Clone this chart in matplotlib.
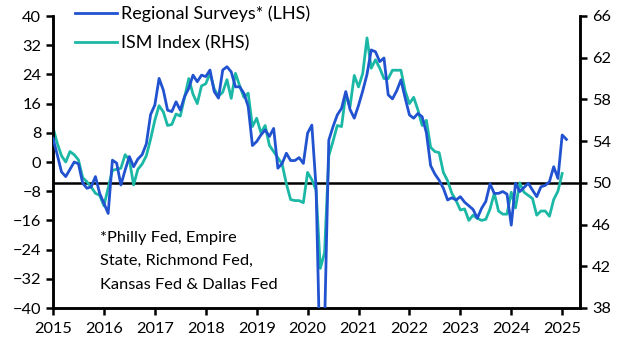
import matplotlib
matplotlib.use("Agg")
import matplotlib.pyplot as plt
import numpy as np

# ---- data (monthly) ----
regional_start = 2015.0
regional = [
    # 2015
    6.5, 2.0, -2.7, -4.0, -2.0, 0.0, -0.5, -5.8, -7.2, -6.8, -4.0, -8.6,
    # 2016
    -11.3, -14.1, 0.5, -0.3, -6.3, -2.2, 1.5, -1.3, 0.8, 2.0, 5.0, 13.0,
    # 2017
    15.6, 22.9, 19.7, 14.2, 13.8, 16.5, 14.2, 17.9, 20.2, 23.8, 22.0, 23.8,
    # 2018
    23.4, 25.2, 19.3, 17.5, 25.2, 26.1, 24.7, 20.6, 20.6, 18.8, 15.2, 4.5,
    # 2019
    5.6, 7.4, 8.8, 7.0, 9.2, -1.7, -0.4, 2.4, 0.4, 0.4, 1.2, -0.4,
    # 2020
    7.9, 10.1, -7.0, -58.0, -45.0, 6.0, 9.7, 12.9, 14.7, 19.3, 14.4, 12.0,
    # 2021
    15.5, 19.5, 24.0, 30.7, 30.2, 27.5, 28.5, 18.4, 17.3, 19.5, 22.5, 17.5,
    # 2022
    12.9, 12.0, 13.3, 12.4, 8.0, -1.0, -3.3, -5.0, -7.2, -10.4, -9.8, -10.4,
    # 2023
    -9.5, -11.0, -12.0, -13.0, -15.4, -12.7, -10.8, -6.0, -8.6, -8.6, -8.1, -8.8,
    # 2024
    -17.3, -5.8, -8.1, -7.0, -5.8, -7.7, -9.5, -6.8, -6.4, -5.4, -1.3, -4.5,
    # 2025
    7.4, 6.2,
]

ism_start = 2015.0
ism = [
    # 2015
    55.3, 53.8, 52.6, 52.0, 53.0, 52.7, 52.2, 50.5, 50.1, 49.6, 49.0, 48.8,
    # 2016
    47.8, 49.5, 51.2, 51.3, 51.4, 52.7, 52.2, 49.8, 51.3, 51.8, 52.6, 54.2,
    # 2017
    56.0, 57.4, 56.8, 55.5, 55.6, 56.6, 56.4, 58.2, 60.0, 58.5, 57.6, 59.3,
    # 2018
    59.5, 60.5, 59.0, 58.3, 58.7, 59.9, 58.1, 60.5, 59.3, 58.2, 58.6, 55.4,
    # 2019
    56.2, 54.8, 55.5, 53.6, 53.0, 52.4, 51.8, 49.9, 48.4, 48.3, 48.3, 48.1,
    # 2020
    51.0, 50.3, 49.3, 41.8, 43.3, 52.6, 54.0, 55.5, 55.4, 58.5, 57.3, 60.3,
    # 2021
    59.2, 60.5, 63.9, 61.0, 61.8, 61.0, 60.0, 60.0, 60.8, 60.8, 60.8, 58.8,
    # 2022
    57.6, 58.2, 57.0, 55.5, 56.0, 53.4, 53.0, 52.9, 51.0, 50.2, 49.0, 48.3,
    # 2023
    47.4, 47.5, 46.4, 46.9, 46.6, 46.4, 46.5, 47.5, 49.0, 47.3, 47.0, 47.0,
    # 2024
    49.1, 47.6, 50.0, 49.1, 48.8, 48.5, 46.9, 47.3, 47.3, 46.8, 48.4, 49.2,
    # 2025
    50.9,
]

year_ticks = list(range(2015, 2026))
left_ticks = list(range(-40, 41, 8))
right_ticks = list(range(38, 67, 4))
ism_threshold = 50

BLUE = "#2152d0"
TEAL = "#1cb8a6"

plt.rcParams["font.family"] = ["Lato", "DejaVu Sans"]

x_reg = regional_start + np.arange(len(regional)) / 12.0
x_ism = ism_start + np.arange(len(ism)) / 12.0

fig = plt.figure(figsize=(6.32, 3.57), dpi=100)
ax = fig.add_axes([53 / 632, 1 - 308 / 357, (580 - 53) / 632, (308 - 16) / 357])
ax2 = ax.twinx()

l1, = ax.plot(x_reg, regional, color=BLUE, lw=2.0, label="Regional Surveys* (LHS)", zorder=3)
l2, = ax2.plot(x_ism, ism, color=TEAL, lw=2.0, label="ISM Index (RHS)", zorder=2)
ax2.axhline(ism_threshold, color="black", lw=1.8, zorder=1)

ax.set_xlim(2015.0, 2025.35)
ax.set_ylim(-40, 40)
ax2.set_ylim(38, 66)

ax.set_xticks(year_ticks)
ax.set_xticklabels([str(y) for y in year_ticks])
ax.set_yticks(left_ticks)
ax2.set_yticks(right_ticks)

for a in (ax, ax2):
    a.spines["top"].set_visible(False)
    for s in ("left", "right", "bottom"):
        a.spines[s].set_linewidth(1.8)
        a.spines[s].set_color("black")
    a.tick_params(axis="both", direction="out", length=5, width=1.8, labelsize=11.8, colors="black")

ax.tick_params(axis="x", pad=5)
ax.set_zorder(ax2.get_zorder() + 1)
ax.patch.set_visible(False)

leg = ax.legend(handles=[l1, l2], loc="upper left", bbox_to_anchor=(0.042, 1.036),
                frameon=False, fontsize=13, handlelength=2.33, handletextpad=0.22,
                labelspacing=0.75, borderaxespad=0.0, borderpad=0.0)

ax.text(2015.93, -18.9, "*Philly Fed, Empire\nState, Richmond Fed,\nKansas Fed & Dallas Fed",
        fontsize=11.8, va="top", ha="left", linespacing=1.85)

fig.savefig("out.png", dpi=100)
